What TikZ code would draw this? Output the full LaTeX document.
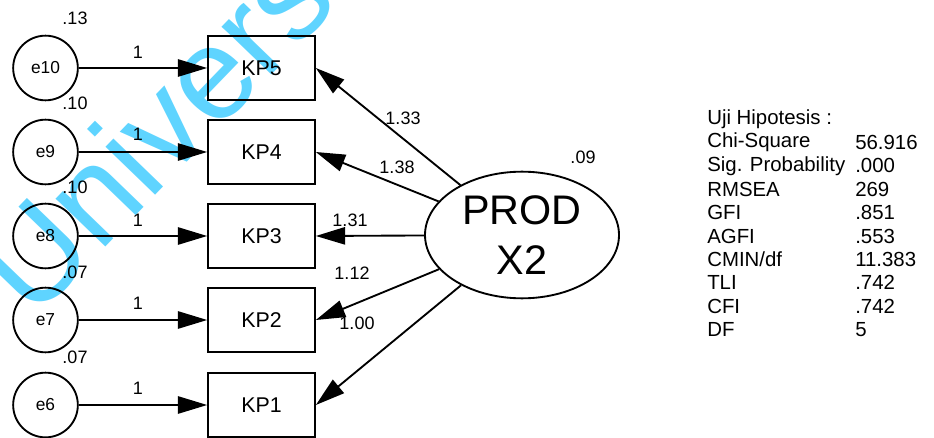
\documentclass[tikz,border=0pt]{standalone}
\usepackage{fontspec}
\setmainfont{Liberation Sans}
\usetikzlibrary{shapes.geometric,arrows.meta}

\definecolor{wmblue}{RGB}{95,212,255}

\begin{document}
\begin{tikzpicture}[x=0.75pt,y=-0.75pt,
  errvar/.style={draw,circle,line width=1.4pt,minimum size=48.5pt,inner sep=0pt,font=\fontsize{13}{13}\selectfont},
  indicator/.style={draw,rectangle,line width=1.5pt,minimum width=80pt,minimum height=48pt,inner sep=0pt,font=\fontsize{16}{16}\selectfont},
  factor/.style={draw,ellipse,line width=1.4pt,minimum width=145.5pt,minimum height=95pt,inner sep=0pt,align=center,font=\fontsize{31}{37.5}\selectfont},
  regpath/.style={line width=1.4pt,-{Triangle[length=22pt,width=13pt]}},
  est/.style={font=\fontsize{13.5}{13.5}\selectfont,inner sep=0pt},
  stat/.style={font=\fontsize{15.3}{15.3}\selectfont,inner sep=0pt,anchor=west},
  wmark/.style={text=wmblue,font=\fontsize{98}{98}\selectfont,inner sep=0pt},
]
\useasboundingbox (0,0) rectangle (934,438);

% error terms
\node[errvar] (e10) at (45.5,68)  {e10};
\node[errvar] (e9)  at (45.5,152) {e9};
\node[errvar] (e8)  at (45.5,236) {e8};
\node[errvar] (e7)  at (45.5,320) {e7};
\node[errvar] (e6)  at (45.5,405) {e6};

% observed indicators
\node[indicator] (kp5) at (261.5,68)  {KP5};
\node[indicator] (kp4) at (261.5,152) {KP4};
\node[indicator] (kp3) at (261.5,236) {KP3};
\node[indicator] (kp2) at (261.5,320) {KP2};
\node[indicator] (kp1) at (261.5,405) {KP1};

% latent factor
\node[factor] (prod) at (522,235) {PROD\\X2};

% error paths
\foreach \e/\k in {e10/kp5,e9/kp4,e8/kp3,e7/kp2,e6/kp1}
  \draw[regpath] (\e) -- (\k);

% loadings
\foreach \k in {kp5,kp4,kp3,kp2,kp1}
  \draw[regpath] (prod) -- (\k.east);

% fixed weights
\node[est] (w10) at (138,52)  {1};
\node[est] (w9)  at (138,134) {1};
\node[est] (w8)  at (138,220) {1};
\node[est] (w7)  at (138,303) {1};
\node[est] (w6)  at (138,388) {1};

% variances
\node[est] (v10) at (75,18)  {.13};
\node[est] (v9)  at (75,103) {.10};
\node[est] (v8)  at (75,187) {.10};
\node[est] (v7)  at (75,272) {.07};
\node[est] (v6)  at (75,357) {.07};
\node[est] (vp)  at (583,157) {.09};

% loading estimates
\node[est] (l5) at (403,118) {1.33};
\node[est] (l4) at (397,167) {1.38};
\node[est] (l3) at (350,220) {1.31};
\node[est] (l2) at (352,273) {1.12};
\node[est] (l1) at (357,323) {1.00};

% fit statistics
\node[stat] (h0) at (707,119) {Uji Hipotesis :};
\foreach \i/\name/\val in {1/Chi-Square/56.916,2/Sig. Probability/.000,3/RMSEA/269,
    4/GFI/.851,5/AGFI/.553,6/CMIN\slash df/11.383,7/TLI/.742,8/CFI/.742,9/DF/5}{
  \node[stat] (s\i) at (707,119+23.4*\i) {\name};
  \node[stat] (t\i) at (855,119+23.4*\i) {\val};
}

% repository watermark
\begin{scope}[blend mode=multiply]
\node[wmark,rotate=46] (wm) at (154,130) {Univers};
\end{scope}
\end{tikzpicture}
\end{document}
